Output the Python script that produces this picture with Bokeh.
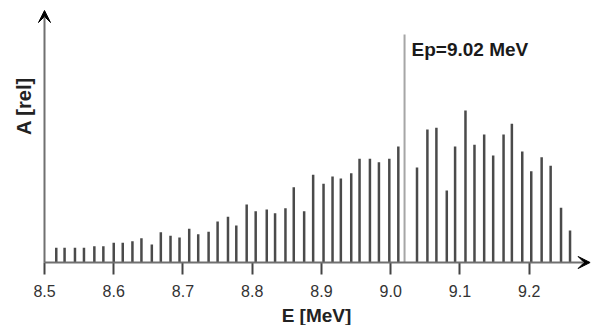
from bokeh.plotting import figure
from bokeh.models import Range1d, FixedTicker, Arrow, VeeHead, Label, PrintfTickFormatter
from bokeh.embed import file_html
from bokeh.resources import INLINE
import math

# Line energies (MeV) and relative amplitudes of the spectrum
energy = [8.517, 8.529, 8.544, 8.557, 8.572, 8.585, 8.600, 8.613, 8.627, 8.640,
          8.655, 8.668, 8.682, 8.695, 8.709, 8.722, 8.737, 8.750, 8.765, 8.777,
          8.792, 8.805, 8.821, 8.833, 8.848, 8.860, 8.875, 8.888, 8.903, 8.916,
          8.928, 8.943, 8.955, 8.970, 8.983, 8.998, 9.011, 9.038, 9.053, 9.066,
          9.081, 9.093, 9.108, 9.121, 9.135, 9.148, 9.163, 9.175, 9.190, 9.203,
          9.218, 9.231, 9.246, 9.259]
amplitude = [14.7, 14.7, 14.7, 14.7, 16.3, 16.3, 19.7, 19.7, 21.3, 24.3,
             18.0, 30.3, 26.7, 25.0, 33.8, 28.3, 30.7, 41.0, 45.7, 37.0,
             58.0, 51.3, 53.0, 49.3, 54.3, 75.3, 51.3, 87.7, 78.8, 86.0,
             84.0, 89.3, 103.7, 103.7, 100.3, 103.7, 116.0, 95.0, 133.0, 134.7,
             72.0, 116.0, 152.0, 117.7, 128.0, 107.0, 128.0, 138.7, 111.0, 91.3,
             105.3, 96.7, 54.7, 32.0]

# Peak energy marker
ep_energy = 9.02
ep_height = 228
ep_text = f"Ep={ep_energy:.2f} MeV"

tick_values = [8.5, 8.6, 8.7, 8.8, 8.9, 9.0, 9.1, 9.2]

E_MIN = 8.5          # where the vertical axis stands
E_ARROW = 9.288      # tip of the energy axis arrow
A_ARROW = 252        # tip of the amplitude axis arrow

FONT = "Liberation Sans"
AXIS_GRAY = "#707070"

# The frame fills the whole canvas; the axes are drawn at fixed data locations
p = figure(width=592, height=325, output_backend="svg", toolbar_location=None,
           x_range=Range1d(8.43645, 9.29145), y_range=Range1d(-63, 262),
           min_border=0, min_border_left=0, min_border_right=0,
           min_border_top=0, min_border_bottom=0)
p.outline_line_color = None
p.grid.visible = False
p.yaxis.visible = False

xa = p.xaxis[0]
xa.fixed_location = 0
xa.ticker = FixedTicker(ticks=tick_values)
xa.formatter = PrintfTickFormatter(format="%.1f")
xa.minor_tick_line_color = None
xa.major_tick_in = 0
xa.major_tick_out = 12
xa.major_tick_line_width = 2
xa.major_tick_line_color = "#444444"
xa.axis_line_color = None
xa.major_label_text_font = FONT
xa.major_label_text_font_size = "16px"
xa.major_label_text_color = "#333333"
xa.major_label_standoff = 10

# spectral lines
p.segment(x0=energy, y0=[0] * len(energy), x1=energy, y1=amplitude,
          line_color="#4a4a4a", line_width=2.5)

# Ep marker line and its label
p.segment(x0=[ep_energy], y0=[0], x1=[ep_energy], y1=[ep_height],
          line_color="#a6a6a6", line_width=2)
p.add_layout(Label(x=ep_energy, y=213, x_offset=7, text=ep_text,
                   text_font=FONT, text_font_size="19px", text_font_style="bold",
                   text_color="#1a1a1a", text_baseline="middle"))

# axis lines with arrow heads
p.add_layout(Arrow(end=VeeHead(size=12, fill_color="black", line_color="black"),
                   x_start=E_MIN, y_start=0, x_end=E_MIN, y_end=A_ARROW,
                   line_color=AXIS_GRAY, line_width=2))
p.add_layout(Arrow(end=VeeHead(size=12, fill_color="black", line_color="black"),
                   x_start=E_MIN, y_start=0, x_end=E_ARROW, y_end=0,
                   line_color=AXIS_GRAY, line_width=2))

# axis titles
p.add_layout(Label(x=8.8928, y=-52.5, text="E [MeV]",
                   text_font=FONT, text_font_size="19px", text_font_style="bold",
                   text_color="#222222", text_align="center",
                   text_baseline="middle"))
p.add_layout(Label(x=8.4711, y=156.5, text="A [rel]", angle=math.pi / 2,
                   text_font=FONT, text_font_size="20px", text_font_style="bold",
                   text_color="#222222", text_align="center",
                   text_baseline="middle"))

open("out.html", "w").write(file_html(p, INLINE))
